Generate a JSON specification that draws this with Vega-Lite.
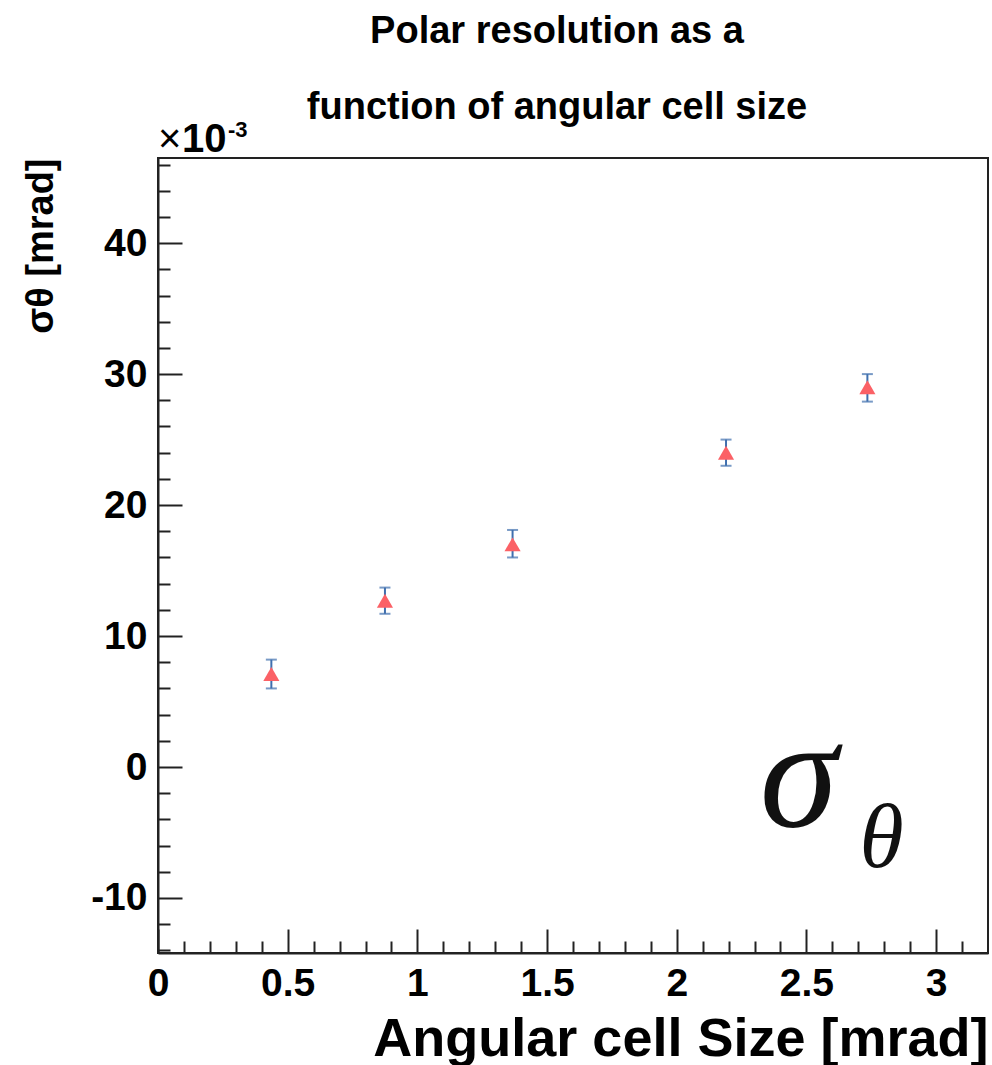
{
  "$schema": "https://vega.github.io/schema/vega-lite/v6.json",
  "width": 830,
  "height": 795,
  "autosize": "none",
  "padding": {"left": 158, "top": 158, "right": 4, "bottom": 112},
  "background": "white",
  "config": {
    "view": {"stroke": "#222222", "strokeWidth": 2},
    "font": "Liberation Sans"
  },
  "title": {
    "text": ["Polar resolution as a", "function of angular cell size"],
    "font": "Liberation Sans",
    "fontSize": 38,
    "fontWeight": "bold",
    "color": "#000000",
    "lineHeight": 76,
    "anchor": "middle",
    "dx": -16,
    "baseline": "bottom",
    "offset": -46
  },
  "data": {
    "values": [
      {"size": 0.437, "sigma": 7.1, "lo": 6.0, "hi": 8.2},
      {"size": 0.875, "sigma": 12.7, "lo": 11.7, "hi": 13.7},
      {"size": 1.367, "sigma": 17.0, "lo": 16.0, "hi": 18.1},
      {"size": 2.19, "sigma": 24.0, "lo": 23.0, "hi": 25.0},
      {"size": 2.735, "sigma": 29.0, "lo": 27.9, "hi": 30.0}
    ]
  },
  "resolve": {"axis": {"x": "independent", "y": "independent"}},
  "layer": [
    {
      "mark": {
        "type": "errorbar",
        "color": "#3f6fae",
        "thickness": 2,
        "ticks": {"size": 11, "color": "#3f6fae", "strokeWidth": 2}
      },
      "encoding": {
        "x": {
          "field": "size",
          "type": "quantitative",
          "scale": {"domain": [0, 3.2], "nice": false, "zero": false},
          "axis": {
            "orient": "bottom",
            "title": "Angular cell Size [mrad]",
            "titleFont": "Liberation Sans",
            "titleFontSize": 54,
            "titleFontWeight": "bold",
            "titleColor": "#000000",
            "titleAnchor": "end",
            "titleAlign": "right",
            "titleBaseline": "alphabetic",
            "titleX": 830,
            "titleY": 102,
            "values": [0, 0.5, 1, 1.5, 2, 2.5, 3],
            "labelExpr": "'' + datum.value",
            "labelFont": "Liberation Sans",
            "labelFontSize": 39,
            "labelFontWeight": "bold",
            "labelColor": "#000000",
            "labelPadding": 35,
            "labelFlush": false,
            "labelOverlap": false,
            "tickColor": "#222222",
            "tickWidth": 2,
            "tickSize": -24,
            "domainColor": "#222222",
            "domainWidth": 2,
            "grid": false
          }
        },
        "y": {
          "field": "lo",
          "type": "quantitative",
          "scale": {"domain": [-14.2, 46.5], "nice": false, "zero": false},
          "axis": {
            "orient": "left",
            "title": "σθ [mrad]",
            "titleFont": "Liberation Sans",
            "titleFontSize": 38,
            "titleFontWeight": "bold",
            "titleColor": "#000000",
            "titleAngle": -90,
            "titleAnchor": "end",
            "titleAlign": "right",
            "titleBaseline": "alphabetic",
            "titleX": -106,
            "titleY": 0,
            "values": [-10, 0, 10, 20, 30, 40],
            "labelExpr": "'' + datum.value",
            "labelFont": "Liberation Sans",
            "labelFontSize": 39,
            "labelFontWeight": "bold",
            "labelColor": "#000000",
            "labelPadding": 35,
            "labelFlush": false,
            "labelOverlap": false,
            "tickColor": "#222222",
            "tickWidth": 2,
            "tickSize": -24,
            "domainColor": "#222222",
            "domainWidth": 2,
            "grid": false
          }
        },
        "y2": {"field": "hi"}
      }
    },
    {
      "mark": {"type": "point", "shape": "triangle-up", "filled": true, "size": 260, "color": "#fb6166", "opacity": 1},
      "encoding": {
        "x": {
          "field": "size",
          "type": "quantitative",
          "axis": {
            "orient": "bottom",
            "title": null,
            "values": [0.1, 0.2, 0.3, 0.4, 0.6, 0.7, 0.8, 0.9, 1.1, 1.2, 1.3, 1.4, 1.6, 1.7, 1.8, 1.9, 2.1, 2.2, 2.3, 2.4, 2.6, 2.7, 2.8, 2.9, 3.1],
            "labels": false,
            "domain": false,
            "grid": false,
            "tickColor": "#222222",
            "tickWidth": 2,
            "tickSize": -12
          }
        },
        "y": {
          "field": "sigma",
          "type": "quantitative",
          "axis": {
            "orient": "left",
            "title": null,
            "values": [-14, -12, -8, -6, -4, -2, 2, 4, 6, 8, 12, 14, 16, 18, 22, 24, 26, 28, 32, 34, 36, 38, 42, 44, 46],
            "labels": false,
            "domain": false,
            "grid": false,
            "tickColor": "#222222",
            "tickWidth": 2,
            "tickSize": -12
          }
        }
      }
    },
    {
      "data": {"values": [{"t": "σ"}]},
      "mark": {"type": "text", "font": "Liberation Serif", "fontStyle": "italic", "fontSize": 158, "align": "center", "baseline": "alphabetic", "color": "#111111"},
      "encoding": {
        "x": {"datum": 2.47, "axis": null},
        "y": {"datum": -4.5, "axis": null},
        "text": {"field": "t"}
      }
    },
    {
      "data": {"values": [{"t": "θ"}]},
      "mark": {"type": "text", "font": "Liberation Serif", "fontStyle": "italic", "fontSize": 90, "align": "center", "baseline": "alphabetic", "color": "#111111"},
      "encoding": {
        "x": {"datum": 2.79, "axis": null},
        "y": {"datum": -7.6, "axis": null},
        "text": {"field": "t"}
      }
    },
    {
      "data": {"values": [{"t": "×"}]},
      "mark": {"type": "text", "font": "Liberation Sans", "fontSize": 40, "align": "left", "baseline": "alphabetic", "color": "#000000"},
      "encoding": {
        "x": {"datum": 0, "axis": null},
        "y": {"datum": 46.95, "axis": null},
        "text": {"field": "t"}
      }
    },
    {
      "data": {"values": [{"t": "10"}]},
      "mark": {"type": "text", "font": "Liberation Sans", "fontWeight": "bold", "fontSize": 40, "align": "left", "baseline": "alphabetic", "dx": 24, "color": "#000000"},
      "encoding": {
        "x": {"datum": 0, "axis": null},
        "y": {"datum": 46.95, "axis": null},
        "text": {"field": "t"}
      }
    },
    {
      "data": {"values": [{"t": "-3"}]},
      "mark": {"type": "text", "font": "Liberation Sans", "fontWeight": "bold", "fontSize": 22, "align": "left", "baseline": "alphabetic", "dx": 70, "color": "#000000"},
      "encoding": {
        "x": {"datum": 0, "axis": null},
        "y": {"datum": 48.1, "axis": null},
        "text": {"field": "t"}
      }
    }
  ]
}
